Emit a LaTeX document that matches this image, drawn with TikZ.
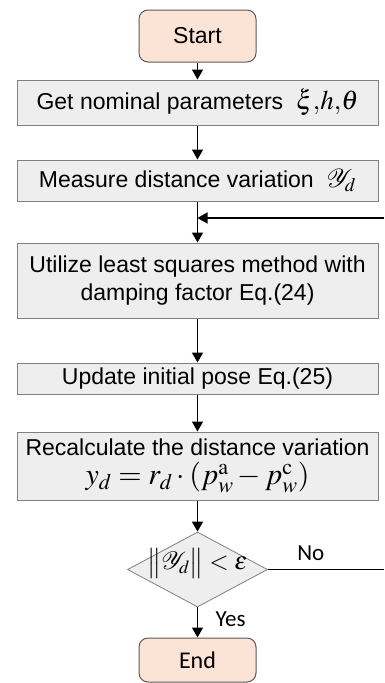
\documentclass[tikz,border=0pt]{standalone}
\usepackage{mathptmx}
\usepackage{fontspec}
\setmainfont{Liberation Sans}
\newfontfamily\calfont{Carlito}
\usetikzlibrary{shapes.geometric,arrows.meta}
\definecolor{boxgray}{HTML}{EEEEEE}
\definecolor{edgegray}{HTML}{808080}
\definecolor{peach}{HTML}{FBE3D6}
\definecolor{termedge}{HTML}{5A5A5A}

\begin{document}
\begin{tikzpicture}[x=1pt,y=-1pt,
  procbox/.style={draw=edgegray,fill=boxgray,line width=1pt,minimum width=361pt,
    inner sep=0pt,align=center,font=\fontsize{23}{28}\selectfont},
  termbox/.style={draw=termedge,fill=peach,rounded corners=9pt,line width=1pt,
    minimum width=117pt,inner sep=0pt},
  decbox/.style={diamond,draw=edgegray,fill=boxgray,line width=0.8pt,
    minimum width=140pt,minimum height=75pt,inner sep=0pt},
  flow/.style={-{Triangle[length=10pt,width=11pt]},line width=1.5pt},
  lbl/.style={font=\calfont\fontsize{23}{26}\selectfont}]
\useasboundingbox (0,0) rectangle (384,683);
% Steps of the loop, top to bottom
\node[termbox,minimum height=52pt,font=\fontsize{23}{27}\selectfont] (start) at (197.5,36) {Start};
\node[procbox,minimum height=45pt] (getpar) at (197.5,102.5)
  {Get nominal parameters\ \ {\fontsize{27}{28}\selectfont$\xi{,}h{,}\theta$}};
\node[procbox,minimum height=41pt] (measure) at (197.5,180.5)
  {Measure distance variation\ \ {\fontsize{26}{28}\selectfont$\mathcal{Y}_d$}};
\coordinate (join) at (197.5,218);
\coordinate (loopin) at (384,218);
\node[procbox,minimum height=75pt] (lsq) at (197.5,280.5)
  {Utilize least squares method with\\damping factor Eq.(24)};
\node[procbox,minimum height=31pt] (update) at (197.5,378.5) {Update initial pose Eq.(25)};
\node[procbox,minimum height=68pt] (recalc) at (197.5,466)
  {Recalculate the distance variation\\[1pt]
   {\fontsize{30}{31}\selectfont$y_d=r_d\cdot(p_w^{\mathrm{a}}-p_w^{\mathrm{c}})$}};
% diamond keeps its own size, the test sits over it
\node[decbox] (check) at (197.5,569.5)
  {\makebox[0pt]{\smash{\fontsize{25}{28}\selectfont$\big\|\mathcal{Y}_d\big\|<\varepsilon$}}};
\coordinate (loopout) at (384,569.5);
\node[termbox,minimum height=44pt,font=\calfont\fontsize{24}{27}\selectfont] (finish) at (197.5,660) {End};
% Connectors
\draw[flow] (start) -- (getpar);
\draw[flow] (getpar) -- (measure);
\draw[flow] (measure) -- (lsq);
\draw[flow] (loopin) -- (join);
\draw[flow] (lsq) -- (update);
\draw[flow] (update) -- (recalc);
\draw[flow] (recalc) -- (check);
\draw[flow] (check) -- node[lbl,anchor=west,pos=0.4,xshift=14pt] {Yes} (finish);
\draw[line width=1.5pt] (check) -- node[lbl,pos=0.37,above=5pt] {No} (loopout);
\end{tikzpicture}
\end{document}
